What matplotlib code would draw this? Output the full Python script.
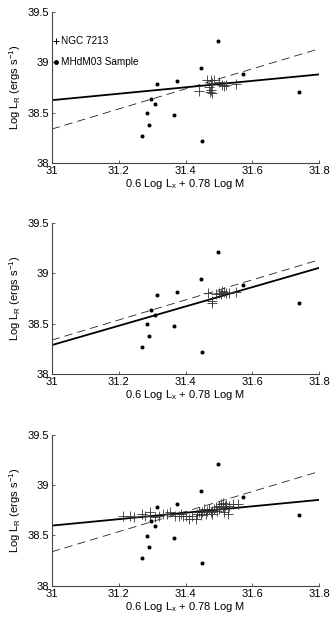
import matplotlib
matplotlib.use("Agg")
import matplotlib.pyplot as plt
import numpy as np

plt.rcParams['font.family'] = ['Liberation Sans', 'DejaVu Sans']
plt.rcParams['mathtext.fontset'] = 'custom'
plt.rcParams['mathtext.rm'] = 'Liberation Sans'
plt.rcParams['mathtext.it'] = 'Liberation Sans'

# MHdM03 sample (same in every panel)
mh_x = [31.498, 31.445, 31.316, 31.375, 31.571, 31.738, 31.298, 31.309,
        31.285, 31.365, 31.292, 31.270, 31.450]
mh_y = [39.211, 38.942, 38.781, 38.811, 38.880, 38.703, 38.640, 38.591,
        38.492, 38.473, 38.381, 38.273, 38.223]

# NGC 7213 points per panel
n1_x = [31.440, 31.465, 31.475, 31.470, 31.472, 31.478, 31.485, 31.500,
        31.510, 31.515, 31.520, 31.550, 31.480, 31.475]
n1_y = [38.716, 38.820, 38.820, 38.750, 38.710, 38.700, 38.820, 38.800,
        38.770, 38.760, 38.775, 38.780, 38.790, 38.730]

n2_x = [31.468, 31.480, 31.480, 31.500, 31.510, 31.520, 31.530, 31.550,
        31.505, 31.515, 31.490]
n2_y = [38.800, 38.730, 38.710, 38.800, 38.820, 38.800, 38.800, 38.810,
        38.790, 38.810, 38.790]

n3_x = [31.214, 31.234, 31.246, 31.269, 31.279, 31.294, 31.308, 31.320,
        31.332, 31.345, 31.355, 31.370, 31.380, 31.388, 31.393, 31.400,
        31.410, 31.420, 31.430, 31.435, 31.440, 31.450, 31.455, 31.460,
        31.465, 31.470, 31.475, 31.480, 31.485, 31.490, 31.495, 31.500,
        31.505, 31.511, 31.513, 31.516, 31.521, 31.526, 31.531, 31.541,
        31.556, 31.294, 31.445, 31.478, 31.500, 31.517]
n3_y = [38.696, 38.696, 38.680, 38.712, 38.696, 38.696, 38.680, 38.696,
        38.712, 38.712, 38.729, 38.696, 38.696, 38.712, 38.696, 38.696,
        38.663, 38.696, 38.663, 38.712, 38.729, 38.729, 38.761, 38.712,
        38.745, 38.761, 38.729, 38.712, 38.761, 38.778, 38.745, 38.794,
        38.810, 38.821, 38.778, 38.729, 38.810, 38.712, 38.794, 38.810,
        38.810, 38.729, 38.700, 38.745, 38.760, 38.790]

# fit lines: endpoints at x = 31 and 31.8
line_x = [31.0, 31.8]
solid_y = [[38.624, 38.880], [38.287, 39.055], [38.597, 38.853]]
dashed_y = [38.337, 39.135]

ngc = [(n1_x, n1_y), (n2_x, n2_y), (n3_x, n3_y)]

FS = 8
fig = plt.figure(figsize=(3.34, 6.21), dpi=100)
bottoms = [0.7375, 0.3977, 0.0568]
for i, b in enumerate(bottoms):
    ax = fig.add_axes([0.1548, b, 0.8012, 0.2432])
    ax.plot(line_x, dashed_y, color='#222222', lw=0.6, dashes=(10, 6))
    ax.plot(line_x, solid_y[i], color='black', lw=1.3)
    ax.plot(ngc[i][0], ngc[i][1], ls='none', marker='+', ms=7.5, mew=0.6,
            color='#333333')
    ax.plot(mh_x, mh_y, ls='none', marker='o', ms=1.9, color='black')
    ax.set_xlim(31, 31.8)
    ax.set_ylim(38, 39.5)
    ax.set_xticks([31, 31.2, 31.4, 31.6, 31.8])
    ax.set_xticklabels(['31', '31.2', '31.4', '31.6', '31.8'])
    ax.set_yticks([38, 38.5, 39, 39.5])
    ax.set_yticklabels(['38', '38.5', '39', '39.5'])
    for s in ['top', 'right']:
        ax.spines[s].set_visible(False)
    for s in ['left', 'bottom']:
        ax.spines[s].set_color('#444444')
        ax.spines[s].set_linewidth(0.8)
    ax.tick_params(direction='in', length=2.5, width=0.6, labelsize=FS,
                   pad=2, colors='#444444', labelcolor='black')
    ax.set_xlabel('0.6 Log L$_\\mathrm{x}$ + 0.78 Log M', fontsize=FS,
                  labelpad=1)
    ax.set_ylabel('Log L$_\\mathrm{R}$ (ergs s$^{-1}$)', fontsize=FS,
                  labelpad=3)
    if i == 0:
        ax.plot([31.013], [39.21], ls='none', marker='+', ms=4.5, mew=0.7,
                color='black')
        ax.plot([31.013], [39.0], ls='none', marker='o', ms=2.5,
                color='black')
        ax.text(31.029, 39.21, 'NGC 7213', fontsize=7.2, va='center',
                ha='left')
        ax.text(31.029, 39.0, 'MHdM03 Sample', fontsize=7.2, va='center',
                ha='left')

fig.savefig('out.png', dpi=100)
